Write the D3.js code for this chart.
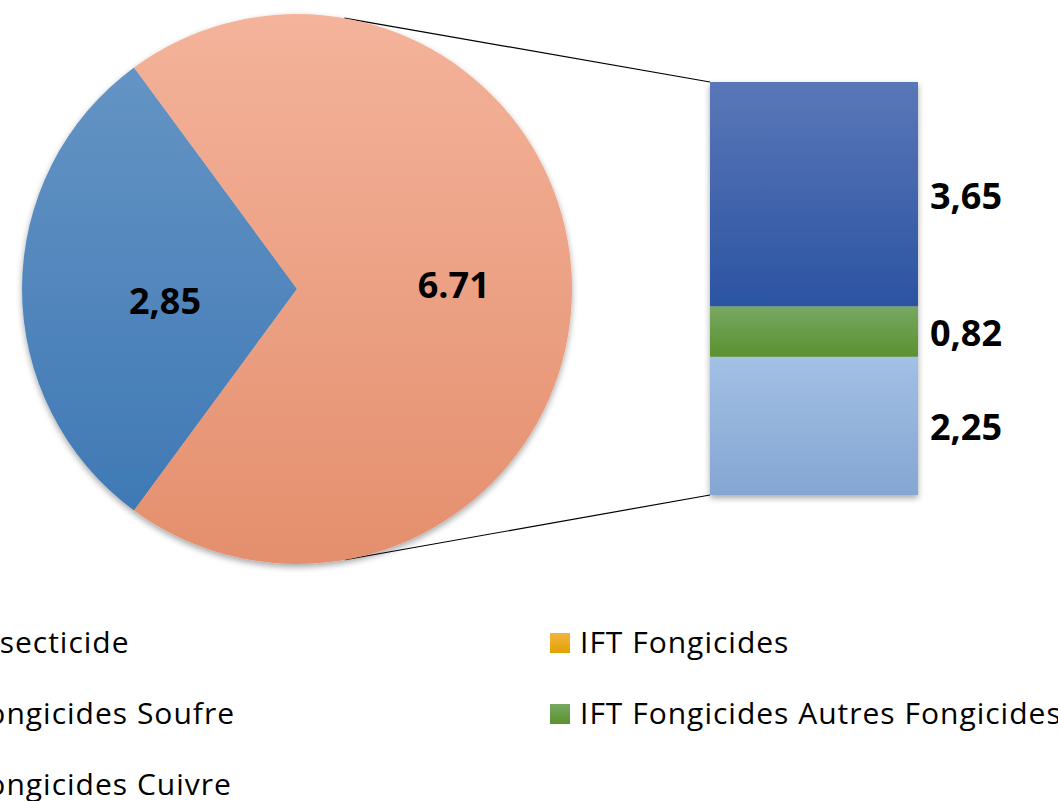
<!DOCTYPE html>
<html>
<head>
<meta charset="utf-8">
<script src="https://cdn.jsdelivr.net/npm/d3@7"></script>
<style>
  html, body { margin: 0; padding: 0; background: #fff; overflow: hidden; }
  svg { display: block; font-family: "Open Sans", sans-serif; font-variant-ligatures: none; }
</style>
</head>
<body>
<svg id="chart" width="1058" height="801"></svg>
<script>
// ---- data ----
const pieCategories = ["IFT Insecticide", "IFT Fongicides"];
const pieValues = [2.85, 6.71];
const pieLabels = ["2,85", "6.71"];

const barCategories = ["IFT Fongicides Cuivre", "IFT Fongicides Autres Fongicides", "IFT Fongicides Soufre"];
const barValues = [2.25, 0.82, 3.65];
const barLabels = ["2,25", "0,82", "3,65"];

const legendItems = ["IFT Insecticide", "IFT Fongicides", "IFT Fongicides Soufre",
                     "IFT Fongicides Autres Fongicides", "IFT Fongicides Cuivre"];

// ---- styles ----
const grads = {
  "IFT Insecticide": ["#6997c6", "#3b76b3"],
  "IFT Fongicides": ["#f4b39b", "#e48f6d"],
  "IFT Fongicides Soufre": ["#5a77b8", "#2b54a2"],
  "IFT Fongicides Autres Fongicides": ["#78a862", "#5a912f"],
  "IFT Fongicides Cuivre": ["#a3c0e5", "#84a6d2"],
  "legend IFT Fongicides": ["#f2b640", "#e3a100"]
};

const svg = d3.select("#chart");
const defs = svg.append("defs");
Object.entries(grads).forEach(([k, c], i) => {
  const g = defs.append("linearGradient").attr("id", "g" + i)
    .attr("x1", 0).attr("y1", 0).attr("x2", 0).attr("y2", 1);
  g.append("stop").attr("offset", "0%").attr("stop-color", c[0]);
  g.append("stop").attr("offset", "100%").attr("stop-color", c[1]);
  grads[k].id = "url(#g" + i + ")";
});
const shadow = defs.append("filter").attr("id", "shadow")
  .attr("x", "-10%").attr("y", "-10%").attr("width", "120%").attr("height", "125%");
shadow.append("feDropShadow").attr("dx", 0).attr("dy", 3).attr("stdDeviation", 3)
  .attr("flood-color", "#000").attr("flood-opacity", 0.35);

// ---- pie ----
const cx = 297, cy = 289, R = 275;
const total = d3.sum(pieValues);
const blueSpan = 2 * Math.PI * pieValues[0] / total;
const start = -Math.PI / 2 - blueSpan / 2;
const pie = d3.pie().sort(null).startAngle(start).endAngle(start + 2 * Math.PI);
const arcs = pie(pieValues);
const arc = d3.arc().innerRadius(0).outerRadius(R);

// ---- bar ----
const barX0 = 710, barX1 = 918;
const barTotal = d3.sum(barValues);
const y = d3.scaleLinear().domain([0, barTotal]).range([495, 82]);

// connector lines (tangents from bar corners to the pie)
function tangent(px, py, upper) {
  const dx = px - cx, dy = py - cy;
  const d = Math.hypot(dx, dy);
  const phi = Math.atan2(dy, dx);
  const a = Math.acos(R / d);
  const t = upper ? phi - a : phi + a;
  return [cx + R * Math.cos(t), cy + R * Math.sin(t)];
}
const topC = [barX0, y(barTotal)], botC = [barX0, y(0)];
[[topC, true], [botC, false]].forEach(([c, up]) => {
  const t = tangent(c[0], c[1], up);
  svg.append("line").attr("x1", t[0]).attr("y1", t[1]).attr("x2", c[0]).attr("y2", c[1])
    .attr("stroke", "#000").attr("stroke-width", 1.2);
});

const pieG = svg.append("g").attr("transform", `translate(${cx},${cy})`)
  .attr("filter", "url(#shadow)");
arcs.forEach((a, i) => {
  const c = grads[pieCategories[i]];
  const gid = "pg" + i;
  const g = defs.append("linearGradient").attr("id", gid)
    .attr("gradientUnits", "userSpaceOnUse")
    .attr("x1", 0).attr("y1", -R).attr("x2", 0).attr("y2", R);
  g.append("stop").attr("offset", "0%").attr("stop-color", c[0]);
  g.append("stop").attr("offset", "100%").attr("stop-color", c[1]);
  pieG.append("path").attr("d", arc(a)).attr("fill", `url(#${gid})`);
});

// pie labels
const labelFrac = [0.48, 0.57];
const labelDy = [11, -5];
arcs.forEach((a, i) => {
  const la = d3.arc().innerRadius(R * labelFrac[i]).outerRadius(R * labelFrac[i]);
  const [lx, ly] = la.centroid(a);
  svg.append("text").attr("x", cx + lx).attr("y", cy + ly + labelDy[i])
    .attr("text-anchor", "middle").attr("dominant-baseline", "central")
    .attr("font-weight", "bold").attr("font-size", 36).attr("fill", "#000")
    .text(pieLabels[i]);
});

// bar segments
const barG = svg.append("g").attr("filter", "url(#shadow)");
let acc = 0;
const segs = barValues.map((v, i) => { const s = { i, y0: acc, y1: acc + v }; acc += v; return s; });
segs.forEach(s => {
  const c = grads[barCategories[s.i]];
  barG.append("rect").attr("x", barX0).attr("width", barX1 - barX0)
    .attr("y", y(s.y1)).attr("height", y(s.y0) - y(s.y1))
    .attr("fill", c.id);
});
segs.forEach(s => {
  svg.append("text").attr("x", 930).attr("y", (y(s.y0) + y(s.y1)) / 2 + 1)
    .attr("dominant-baseline", "central")
    .attr("font-weight", "bold").attr("font-size", 36).attr("fill", "#000")
    .text(barLabels[s.i]);
});

// legend (two columns, row-major)
const rightColX = 550, leftColTextEnd = 235;
const rowY = [633, 704, 775];
const legendGroups = legendItems.map((name, i) => {
  const col = i % 2, row = Math.floor(i / 2);
  const key = name === "IFT Fongicides" ? "legend IFT Fongicides" : name;
  const g = svg.append("g").attr("transform", `translate(${rightColX},${rowY[row]})`);
  g.append("rect").attr("width", 20).attr("height", 20).attr("fill", grads[key].id);
  const t = g.append("text").attr("x", 30).attr("y", 20).attr("font-size", 30)
    .attr("letter-spacing", 1).attr("fill", "#000").text(name);
  return { g, col, row, t };
});
// left column placed so its "Soufre" entry ends where the reference crop shows it
const soufreLen = legendGroups[2].t.node().getComputedTextLength();
const leftColX = leftColTextEnd - soufreLen - 30;
legendGroups.filter(d => d.col === 0).forEach(d =>
  d.g.attr("transform", `translate(${leftColX},${rowY[d.row]})`));
</script>
</body>
</html>
